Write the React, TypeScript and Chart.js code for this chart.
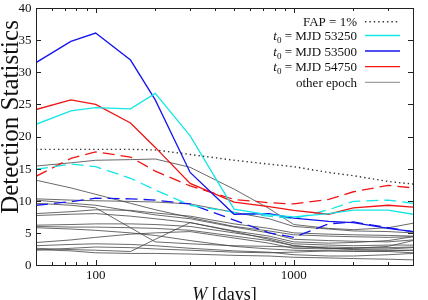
import React, { useEffect, useRef } from 'react';
import { Chart, registerables } from 'chart.js';
Chart.register(...registerables);

const W = [50, 75, 100, 150, 200, 300, 500, 750, 1000, 1500, 2000, 3000, 4000];
const FAP = [18.0, 18.0, 18.0, 18.0, 17.9, 17.2, 16.3, 15.7, 15.3, 14.4, 13.9, 13.0, 12.6];
const T53250 = [21.9, 24.0, 24.5, 24.3, 26.7, 20.1, 8.7, 7.8, 7.5, 8.0, 8.55, 8.55, 7.9];
const T53500 = [31.5, 34.8, 36.1, 31.9, 25.7, 14.4, 7.9, 8.0, 7.3, 6.8, 6.6, 5.7, 5.2];
const T54750 = [24.2, 25.7, 25.0, 22.1, 18.3, 12.7, 9.8, 9.1, 8.5, 7.9, 8.9, 9.3, 9.0];
const T53250b = [14.9, 15.7, 15.3, 13.5, 11.7, 9.3, 8.2, 7.6, 7.2, 8.6, 9.9, 10.1, 9.6];
const T53500b = [9.3, 9.85, 10.4, 10.3, 10.1, 9.5, 7.0, 5.0, 4.3, 6.4, 6.7, 5.8, 5.2];
const T54750b = [13.8, 16.6, 17.6, 16.8, 14.6, 12.3, 10.2, 9.7, 9.5, 10.2, 11.4, 12.4, 12.0];

const OTHER: number[][] = [
  [15.4, 15.9, 16.3, 16.4, 16.5, 15.2, 11.8, 8.8, 6.3, 5.7, 5.5, 5.8, 6.5],
  [13.2, 12.0, 11.0, 9.6, 8.6, 7.4, 6.0, 5.3, 4.7, 4.5, 4.4, 4.3, 4.4],
  [10.3, 10.1, 10.0, 9.9, 9.8, 9.5, 8.2, 7.2, 6.0, 5.6, 5.3, 5.2, 5.0],
  [10.1, 9.6, 9.3, 8.4, 7.8, 7.2, 5.9, 5.0, 4.0, 3.8, 3.7, 3.6, 3.9],
  [9.6, 9.3, 8.9, 5.8, 3.6, 3.3, 3.0, 2.9, 2.8, 2.8, 2.7, 2.7, 2.8],
  [8.0, 8.3, 8.6, 8.5, 8.1, 7.6, 6.4, 5.7, 5.0, 4.8, 4.7, 4.6, 4.5],
  [7.7, 7.9, 8.0, 7.6, 7.2, 6.6, 5.3, 4.5, 3.6, 3.4, 3.5, 3.8, 4.4],
  [6.2, 6.3, 6.4, 6.4, 6.3, 6.0, 5.0, 4.2, 3.3, 3.1, 3.0, 3.1, 3.1],
  [6.0, 5.9, 5.9, 5.8, 5.7, 5.4, 4.5, 3.8, 3.0, 2.6, 2.4, 2.3, 2.3],
  [5.8, 5.6, 5.4, 5.0, 4.6, 3.8, 2.9, 2.5, 2.3, 2.2, 2.1, 2.1, 1.9],
  [3.5, 3.9, 4.3, 4.8, 5.0, 5.2, 4.2, 3.4, 2.6, 2.5, 2.6, 2.9, 3.8],
  [3.0, 3.2, 3.3, 3.2, 3.0, 2.6, 2.2, 2.0, 1.6, 1.4, 1.4, 1.6, 1.8],
  [2.6, 2.4, 2.3, 2.1, 4.0, 6.6, 5.2, 4.0, 3.0, 2.6, 2.5, 2.5, 2.7],
  [2.4, 2.2, 1.9, 1.8, 1.8, 1.7, 1.5, 1.4, 1.2, 1.1, 1.0, 0.9, 0.8],
  [2.3, 2.6, 2.8, 2.7, 2.5, 2.3, 2.0, 1.9, 2.0, 2.2, 2.2, 2.2, 2.3],
];

const Y_TICKS = [0, 5, 10, 15, 20, 25, 30, 35, 40];
const X_MAJOR = [100, 1000];
const X_MINOR = [50, 60, 70, 80, 90, 200, 300, 400, 500, 600, 700, 800, 900, 2000, 3000, 4000];

const CYAN = '#14e6e6';
const BLUE = '#1414f0';
const RED = '#f01414';
const GRAY = '#444444';
const SERIF = '"Liberation Serif", "DejaVu Serif", serif';

const pts = (arr: number[]) => W.map((w, i) => ({ x: w, y: arr[i] }));

export default function App() {
  const ref = useRef<HTMLCanvasElement | null>(null);
  useEffect(() => {
    document.body.style.margin = '0';
    const canvas = ref.current!;
    const decor = {
      id: 'decor',
      afterDraw(chart: any) {
        const ctx = chart.ctx as CanvasRenderingContext2D;
        const a = chart.chartArea;
        const xs = chart.scales.x;
        const ys = chart.scales.y;
        ctx.save();
        // border
        ctx.strokeStyle = '#222';
        ctx.lineWidth = 1;
        ctx.strokeRect(Math.round(a.left) + 0.5, Math.round(a.top) + 0.5, Math.round(a.right - a.left), Math.round(a.bottom - a.top));
        // ticks
        ctx.beginPath();
        for (const v of Y_TICKS) {
          const y = Math.round(ys.getPixelForValue(v)) + 0.5;
          ctx.moveTo(a.left, y); ctx.lineTo(a.left + 5, y);
          ctx.moveTo(a.right, y); ctx.lineTo(a.right - 5, y);
        }
        for (const v of X_MAJOR) {
          const x = Math.round(xs.getPixelForValue(v)) + 0.5;
          ctx.moveTo(x, a.bottom); ctx.lineTo(x, a.bottom - 5);
          ctx.moveTo(x, a.top); ctx.lineTo(x, a.top + 5);
        }
        for (const v of X_MINOR) {
          const x = Math.round(xs.getPixelForValue(v)) + 0.5;
          ctx.moveTo(x, a.bottom); ctx.lineTo(x, a.bottom - 3);
          ctx.moveTo(x, a.top); ctx.lineTo(x, a.top + 3);
        }
        ctx.stroke();
        // tick labels
        ctx.fillStyle = '#111';
        ctx.font = `13px ${SERIF}`;
        ctx.textAlign = 'right';
        ctx.textBaseline = 'middle';
        for (const v of Y_TICKS) {
          ctx.fillText(String(v), a.left - 4.5, ys.getPixelForValue(v) + 0.5);
        }
        ctx.textAlign = 'center';
        ctx.textBaseline = 'top';
        for (const v of X_MAJOR) {
          ctx.fillText(String(v), xs.getPixelForValue(v), a.bottom + 4);
        }
        // x title
        ctx.textBaseline = 'alphabetic';
        ctx.textAlign = 'left';
        const wPart = 'W';
        const rest = ' [days]';
        ctx.font = `italic 18px ${SERIF}`;
        const w1 = ctx.measureText(wPart).width;
        ctx.font = `18px ${SERIF}`;
        const w2 = ctx.measureText(rest).width;
        const cx = (a.left + a.right) / 2;
        const sx = cx - (w1 + w2) / 2;
        ctx.font = `italic 18px ${SERIF}`;
        ctx.fillText(wPart, sx, 300);
        ctx.font = `18px ${SERIF}`;
        ctx.fillText(rest, sx + w1, 300);
        // y title
        ctx.save();
        ctx.translate(17.5, 117);
        ctx.rotate(-Math.PI / 2);
        ctx.font = `25px ${SERIF}`;
        ctx.textAlign = 'center';
        ctx.textBaseline = 'alphabetic';
        ctx.fillText('Detection Statistics', 0, 0);
        ctx.restore();
        // legend
        const rightText = 357;
        const s0 = 365, s1 = 400;
        const rows: any[] = [
          { y: 21.7, kind: 'fap', text: 'FAP = 1%' },
          { y: 35.5, kind: 't0', mjd: '53250', color: CYAN },
          { y: 51.0, kind: 't0', mjd: '53500', color: BLUE },
          { y: 66.7, kind: 't0', mjd: '54750', color: RED },
          { y: 82.3, kind: 'other', text: 'other epoch' },
        ];
        for (const r of rows) {
          const base = r.y + 4.5;
          ctx.fillStyle = '#111';
          ctx.textAlign = 'left';
          ctx.textBaseline = 'alphabetic';
          if (r.kind === 't0') {
            const rest2 = ` = MJD ${r.mjd}`;
            ctx.font = `italic 13px ${SERIF}`;
            const tw = ctx.measureText('t').width;
            ctx.font = `9px ${SERIF}`;
            const zw = ctx.measureText('0').width;
            ctx.font = `13px ${SERIF}`;
            const rw = ctx.measureText(rest2).width;
            const x0 = rightText - (tw + zw + rw);
            ctx.font = `italic 13px ${SERIF}`;
            ctx.fillText('t', x0, base);
            ctx.font = `9px ${SERIF}`;
            ctx.fillText('0', x0 + tw, base + 3);
            ctx.font = `13px ${SERIF}`;
            ctx.fillText(rest2, x0 + tw + zw, base);
          } else {
            ctx.font = `13px ${SERIF}`;
            ctx.textAlign = 'right';
            ctx.fillText(r.text, rightText, base);
          }
          ctx.beginPath();
          if (r.kind === 'fap') {
            ctx.strokeStyle = '#333';
            ctx.lineWidth = 1.4;
            ctx.setLineDash([1.4, 3]);
          } else if (r.kind === 'other') {
            ctx.strokeStyle = '#888';
            ctx.lineWidth = 1;
            ctx.setLineDash([]);
          } else {
            ctx.strokeStyle = r.color;
            ctx.lineWidth = 1.3;
            ctx.setLineDash([]);
          }
          ctx.moveTo(s0, r.y);
          ctx.lineTo(s1, r.y);
          ctx.stroke();
          ctx.setLineDash([]);
        }
        ctx.restore();
      },
    };

    const datasets: any[] = [];
    datasets.push({ data: pts(FAP), borderColor: '#333', borderWidth: 1.4, borderDash: [1.4, 3], order: 0 });
    datasets.push({ data: pts(T53250), borderColor: CYAN, borderWidth: 1.3, order: 1 });
    datasets.push({ data: pts(T53500), borderColor: BLUE, borderWidth: 1.3, order: 1 });
    datasets.push({ data: pts(T54750), borderColor: RED, borderWidth: 1.3, order: 1 });
    datasets.push({ data: pts(T53250b), borderColor: CYAN, borderWidth: 1.3, borderDash: [12, 6], order: 2 });
    datasets.push({ data: pts(T53500b), borderColor: BLUE, borderWidth: 1.3, borderDash: [12, 6], order: 2 });
    datasets.push({ data: pts(T54750b), borderColor: RED, borderWidth: 1.3, borderDash: [12, 6], order: 2 });
    for (const g of OTHER) {
      datasets.push({ data: pts(g), borderColor: GRAY, borderWidth: 0.8, order: 5 });
    }

    const chart = new Chart(canvas, {
      type: 'line',
      data: { datasets },
      options: {
        responsive: false,
        animation: false,
        devicePixelRatio: 1,
        layout: { padding: { left: 36, top: 8, right: 15, bottom: 35 } },
        plugins: { legend: { display: false }, tooltip: { enabled: false } },
        elements: { point: { radius: 0 }, line: { tension: 0, fill: false } },
        scales: {
          x: { type: 'logarithmic', min: 50, max: 4000, display: false },
          y: { type: 'linear', min: 0, max: 40, display: false },
        },
      } as any,
      plugins: [decor],
    });
    return () => chart.destroy();
  }, []);
  return (
    <div style={{ width: 428, height: 300 }}>
      <canvas ref={ref} width={428} height={300} style={{ display: 'block' }} />
    </div>
  );
}
